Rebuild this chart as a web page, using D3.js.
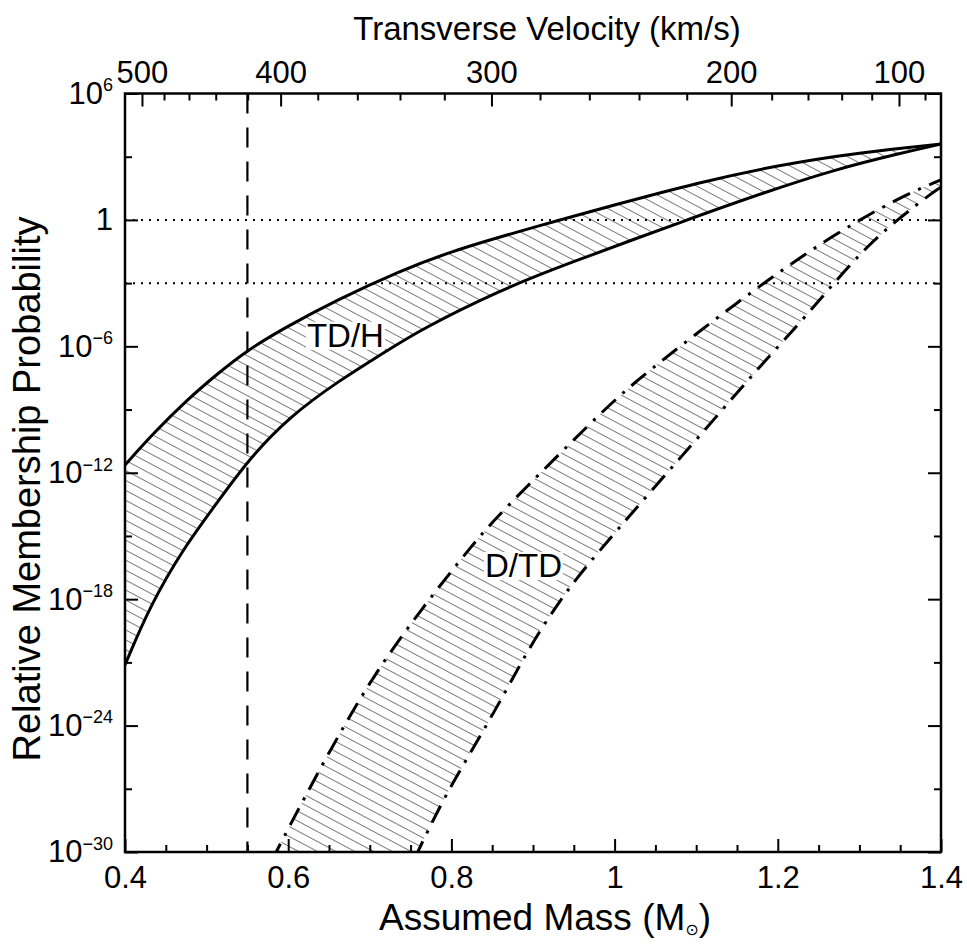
<!DOCTYPE html>
<html>
<head>
<meta charset="utf-8">
<script src="https://cdn.jsdelivr.net/npm/d3@7"></script>
<style>
body{margin:0;background:#fff;}
text{font-family:"Liberation Sans",Arial,Helvetica,sans-serif;fill:#000;}
</style>
</head>
<body>
<script>
var width=967, height=946;
var plotL=125, plotR=941, plotT=93.5, plotB=852;

// axis ticks
var massTicks=[0.4,0.6,0.8,1.0,1.2,1.4];
var massTickLabels=["0.4","0.6","0.8","1","1.2","1.4"];
var massMinor=[0.45,0.5,0.55,0.65,0.7,0.75,0.85,0.9,0.95,1.05,1.1,1.15,1.25,1.3,1.35];
var expMajor=[6,0,-6,-12,-18,-24,-30];
var expMinor=[3,-3,-9,-15,-21,-27];
// top axis: transverse velocity and the mass it sits over
var velTicks=[500,480,460,440,420,400,380,360,340,320,300,280,260,240,220,200,180,160,140,120,100,80];
var velTickMass=[0.4208,0.4478,0.4784,0.5112,0.5504,0.5907,0.6362,0.6847,0.7370,0.7913,0.8491,0.9086,0.9690,1.0299,1.0884,1.1429,1.1925,1.2370,1.2783,1.3151,1.3485,1.3804];
var velMajor=[500,400,300,200,100];

// TD/H band (log10 probability)
var tdhUpperMass=[0.40,0.4347,0.4756,0.5164,0.5504,0.598,0.6594,0.737,0.798,0.86,0.933,1.0,1.1,1.2,1.3,1.4];
var tdhUpperExp=[-11.63,-10.13,-8.55,-7.2,-6.17,-5.07,-3.8,-2.42,-1.52,-0.8,0.0,0.71,1.75,2.6,3.2,3.6];
var tdhLowerMass=[0.40,0.4306,0.4715,0.5124,0.5507,0.6022,0.6635,0.7186,0.7615,0.8596,0.9413,1.0884,1.1864,1.268,1.3498,1.4];
var tdhLowerExp=[-21.12,-18.32,-15.59,-13.45,-11.4,-9.31,-7.6,-6.27,-5.22,-3.33,-2.09,0.0,1.34,2.37,3.16,3.6];

// D/TD band
var dtdUpperMass=[0.58,0.6065,0.6536,0.7046,0.7639,0.8271,0.8596,0.978,1.0227,1.1006,1.182,1.264,1.35,1.4];
var dtdUpperExp=[-30.4,-28.4,-25.0,-21.6,-18.43,-15.35,-13.92,-9.34,-7.75,-5.38,-3.0,-0.8,1.1,1.9];
var dtdLowerMass=[0.755,0.7636,0.794,0.831,0.8677,0.896,0.933,0.974,1.125,1.174,1.227,1.272,1.309,1.346,1.391,1.4];
var dtdLowerExp=[-30.3,-29.6,-27.2,-24.8,-22.3,-20.26,-18.04,-15.98,-9.34,-7.12,-4.9,-2.85,-1.27,0.0,1.34,1.55];

var cutoffMass=0.55;
var dottedExp=[0,-3];
var bandLabels=["TD/H","D/TD"];
var bandLabelMass=[0.623,0.8412];
var bandLabelExp=[-6.02,-16.95];

var svg=d3.select("body").append("svg")
	.attr("width",width)
	.attr("height",height);

var x=d3.scaleLinear().domain([0.4,1.4]).range([plotL,plotR]);
var y=d3.scaleLog().domain([1e-30,1e6]).range([plotB,plotT]);
var xv=d3.scaleLinear().domain(velTicks).range(velTickMass.map(function(m){return x(m);}));

var defs=svg.append("defs");
defs.append("clipPath").attr("id","plotclip")
	.append("rect").attr("x",plotL).attr("y",plotT).attr("width",plotR-plotL).attr("height",plotB-plotT);
var pat=defs.append("pattern").attr("id","hatch")
	.attr("patternUnits","userSpaceOnUse")
	.attr("width",20).attr("height",8.8)
	.attr("patternTransform","rotate(28)");
pat.append("line").attr("x1",-1).attr("x2",21).attr("y1",4.4).attr("y2",4.4)
	.attr("stroke","#7a7a7a").attr("stroke-width",1);

function pts(ms,es){
	return ms.map(function(m,i){return [m,es[i]];});
}
var line=d3.line()
	.x(function(d){return x(d[0]);})
	.y(function(d){return y(Math.pow(10,d[1]));})
	.curve(d3.curveBasis);

function bandPath(up,lo){
	var a=line(up);
	var b=line(lo.slice().reverse());
	return a+"L"+b.substring(1)+"Z";
}

var plot=svg.append("g").attr("clip-path","url(#plotclip)");

var tdhU=pts(tdhUpperMass,tdhUpperExp), tdhL=pts(tdhLowerMass,tdhLowerExp);
var dtdU=pts(dtdUpperMass,dtdUpperExp), dtdL=pts(dtdLowerMass,dtdLowerExp);

plot.selectAll("path.band")
	.data([[tdhU,tdhL],[dtdU,dtdL]])
	.enter().append("path")
	.attr("class","band")
	.attr("d",function(d){return bandPath(d[0],d[1]);})
	.attr("fill","url(#hatch)")
	.attr("stroke","none");

// dotted reference lines
plot.selectAll("line.dot")
	.data(dottedExp)
	.enter().append("line")
	.attr("x1",plotL).attr("x2",plotR)
	.attr("y1",function(d){return y(Math.pow(10,d));})
	.attr("y2",function(d){return y(Math.pow(10,d));})
	.attr("stroke","#000").attr("stroke-width",2)
	.attr("stroke-dasharray","2,6");

// dashed mass cut
plot.append("line")
	.attr("x1",x(cutoffMass)).attr("x2",x(cutoffMass))
	.attr("y1",plotT).attr("y2",plotB)
	.attr("stroke","#000").attr("stroke-width",2.2)
	.attr("stroke-dasharray","20,14");

// band labels with white box
bandLabels.forEach(function(t,i){
	var g=plot.append("g");
	var txt=g.append("text")
		.attr("x",x(bandLabelMass[i]))
		.attr("y",y(Math.pow(10,bandLabelExp[i])))
		.attr("font-size",33)
		.text(t);
	var bb=txt.node().getBBox();
	g.insert("rect","text")
		.attr("x",bb.x-1).attr("y",bb.y+5)
		.attr("width",bb.width+2).attr("height",bb.height-9)
		.attr("fill","#fff");
});

plot.selectAll("path.tdh")
	.data([tdhU,tdhL])
	.enter().append("path")
	.attr("d",line)
	.attr("fill","none").attr("stroke","#000").attr("stroke-width",3);

plot.selectAll("path.dtd")
	.data([dtdU,dtdL])
	.enter().append("path")
	.attr("d",line)
	.attr("fill","none").attr("stroke","#000").attr("stroke-width",3)
	.attr("stroke-dasharray","19,9,3,9");

// axes
function clean(g){
	g.select(".domain").remove();
	g.selectAll(".tick line").attr("stroke","#000").attr("stroke-width",2);
	g.selectAll("text").attr("font-family",null).attr("font-size",31);
}

svg.append("g").attr("transform","translate(0,"+plotB+")")
	.call(d3.axisBottom(x).tickValues(massMinor).tickSize(-7).tickFormat(""))
	.call(clean);
svg.append("g").attr("transform","translate(0,"+plotB+")")
	.call(d3.axisBottom(x).tickValues(massTicks).tickSize(-13).tickPadding(14)
		.tickFormat(function(d,i){return massTickLabels[i];}))
	.call(clean);

svg.append("g").attr("transform","translate(0,"+plotT+")")
	.call(d3.axisTop(xv).tickValues(velTicks.filter(function(v){return velMajor.indexOf(v)<0;})).tickSize(-7).tickFormat(""))
	.call(clean);
svg.append("g").attr("transform","translate(0,"+plotT+")")
	.call(d3.axisTop(xv).tickValues(velMajor).tickSize(-13).tickPadding(11).tickFormat(d3.format("d")))
	.call(clean);

var p10=function(e){return Math.pow(10,e);};
svg.append("g").attr("transform","translate("+plotL+",0)")
	.call(d3.axisLeft(y).tickValues(expMinor.map(p10)).tickSize(-7).tickFormat(""))
	.call(clean);
var yl=svg.append("g").attr("transform","translate("+plotL+",0)")
	.call(d3.axisLeft(y).tickValues(expMajor.map(p10)).tickSize(-13).tickPadding(12).tickFormat(""))
	.call(clean);
yl.selectAll(".tick text").each(function(d,i){
	var e=expMajor[i];
	var t=d3.select(this);
	if(e===0){ t.text("1"); return; }
	t.append("tspan").text("10");
	t.append("tspan").attr("font-size",18).attr("dy","-0.7em")
		.text(e<0 ? "\u2212"+(-e) : String(e));
});

svg.append("g").attr("transform","translate("+plotR+",0)")
	.call(d3.axisRight(y).tickValues(expMinor.map(p10)).tickSize(-7).tickFormat(""))
	.call(clean);
svg.append("g").attr("transform","translate("+plotR+",0)")
	.call(d3.axisRight(y).tickValues(expMajor.map(p10)).tickSize(-13).tickFormat(""))
	.call(clean);

svg.append("rect")
	.attr("x",plotL).attr("y",plotT).attr("width",plotR-plotL).attr("height",plotB-plotT)
	.attr("fill","none").attr("stroke","#000").attr("stroke-width",2.5);

// titles
svg.append("text")
	.attr("x",547).attr("y",40)
	.attr("text-anchor","middle").attr("font-size",33)
	.text("Transverse Velocity (km/s)");

var xt=svg.append("text")
	.attr("x",545).attr("y",930)
	.attr("text-anchor","middle").attr("font-size",37);
xt.append("tspan").text("Assumed Mass (M");
xt.append("tspan").attr("font-size",16).attr("dy",5)
	.attr("font-family","DejaVu Sans").text("\u2299");
xt.append("tspan").attr("dy",-5).text(")");

svg.append("text")
	.attr("transform","translate(40,489) rotate(-90)")
	.attr("text-anchor","middle").attr("font-size",38)
	.text("Relative Membership Probability");
</script>
</body>
</html>
